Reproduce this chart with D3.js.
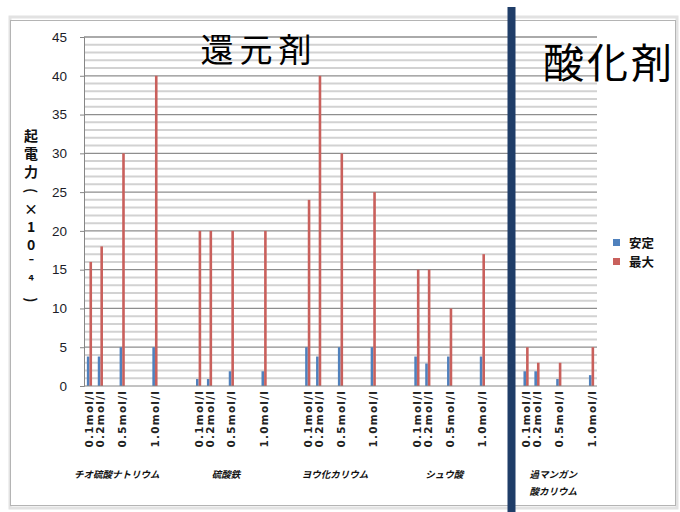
<!DOCTYPE html>
<html>
<head>
<meta charset="utf-8">
<script src="https://cdn.jsdelivr.net/npm/d3@7"></script>
<style>
  body { margin: 0; background: #fff; }
  svg { display: block; }
</style>
</head>
<body>
<svg id="chart" width="680" height="512"></svg>
<script>
// blank rows in the sheet are kept as empty categories
const categories = [
	"0.1mol/l", "0.2mol/l", "", "0.5mol/l", "", "", "1.0mol/l", "", "", "",
	"0.1mol/l", "0.2mol/l", "", "0.5mol/l", "", "", "1.0mol/l", "", "", "",
	"0.1mol/l", "0.2mol/l", "", "0.5mol/l", "", "", "1.0mol/l", "", "", "",
	"0.1mol/l", "0.2mol/l", "", "0.5mol/l", "", "", "1.0mol/l", "", "", "",
	"0.1mol/l", "0.2mol/l", "", "0.5mol/l", "", "", "1.0mol/l"
];
const groupLines = [["チオ硫酸ナトリウム"], ["硫酸鉄"], ["ヨウ化カリウム"], ["シュウ酸"], ["過マンガン", "酸カリウム"]];

const seriesNames = ["安定", "最大"];
const stable = [
	3.8, 3.8, null, 5, null, null, 5, null, null, null,
	0.9, 0.9, null, 1.9, null, null, 1.9, null, null, null,
	5, 3.8, null, 5, null, null, 5, null, null, null,
	3.8, 2.9, null, 3.8, null, null, 3.8, null, null, null,
	1.9, 1.9, null, 0.9, null, null, 1.4
];
const maximum = [
	16, 18, null, 30, null, null, 40, null, null, null,
	20, 20, null, 20, null, null, 20, null, null, null,
	24, 40, null, 30, null, null, 25, null, null, null,
	15, 15, null, 10, null, null, 17, null, null, null,
	5, 3, null, 3, null, null, 5
];
const yTicks = [0, 5, 10, 15, 20, 25, 30, 35, 40, 45];
const yTitle = ["起", "電", "力", "(", "×", "1", "0", "⁻", "⁴", ")"];

const colors = { "安定": "#4f81bd", "最大": "#c9605c" };

const svg = d3.select("#chart");
const jp = "'Noto Sans CJK JP', sans-serif";

// outer chart frame
svg.append("rect").attr("x", 10).attr("y", 17).attr("width", 667).attr("height", 491)
	.attr("fill", "none").attr("stroke", "#e2e2e2").attr("stroke-width", 3);
svg.append("rect").attr("x", 10.5).attr("y", 20.5).attr("width", 665).attr("height", 485)
	.attr("fill", "#fff").attr("stroke", "#b4b4b4");

const x = d3.scaleBand()
	.domain(d3.range(categories.length))
	.range([84, 597]);
const bw = x.bandwidth();
const xs = d3.scaleBand()
	.domain(seriesNames)
	.range([bw / 2 - 2.6, bw / 2 + 2.6]);
const y = d3.scaleLinear().domain([0, 45]).range([386, 37]);

// minor gridlines every 1, major every 5
svg.append("g").selectAll("line")
	.data(d3.range(1, 46).filter(v => v % 5 != 0))
	.join("line")
	.attr("x1", 84).attr("x2", 597)
	.attr("y1", d => y(d)).attr("y2", d => y(d))
	.attr("stroke", "#d2d2d2").attr("stroke-width", 2);
svg.append("g").selectAll("line")
	.data(yTicks.slice(1))
	.join("line")
	.attr("x1", 84).attr("x2", 597)
	.attr("y1", d => y(d)).attr("y2", d => y(d))
	.attr("stroke", "#8e8e8e").attr("stroke-width", 1.3);

// bars
const rows = categories.map((c, i) => ({ i: i, "安定": stable[i], "最大": maximum[i] }))
	.filter(r => r["安定"] != null);

const cat = svg.append("g").selectAll("g")
	.data(rows)
	.join("g")
	.attr("transform", d => `translate(${x(d.i)},0)`);
cat.selectAll("rect")
	.data(d => seriesNames.map(s => ({ s: s, v: d[s] })))
	.join("rect")
	.attr("x", d => xs(d.s))
	.attr("width", xs.bandwidth())
	.attr("y", d => y(d.v))
	.attr("height", d => y(0) - y(d.v))
	.attr("fill", d => colors[d.s]);

// axes
const yAxis = svg.append("g")
	.attr("transform", "translate(84,0)")
	.call(d3.axisLeft(y).tickValues(yTicks).tickSize(4).tickPadding(13));
yAxis.select(".domain").attr("stroke", "#868686");
yAxis.selectAll(".tick line").attr("stroke", "#868686");
yAxis.selectAll("text")
	.attr("font-family", "'Liberation Sans', sans-serif")
	.attr("font-size", 13.5)
	.attr("fill", "#1c1c28");

svg.append("line")
	.attr("x1", 84).attr("x2", 597)
	.attr("y1", y(0)).attr("y2", y(0))
	.attr("stroke", "#868686");

// category labels, rotated
svg.append("g").selectAll("text")
	.data(categories.map((c, i) => ({ c: c, i: i })).filter(d => d.c != ""))
	.join("text")
	.attr("transform", d => `translate(${x(d.i) + bw / 2 + 4},390) rotate(-90)`)
	.attr("text-anchor", "end")
	.attr("font-family", "'DejaVu Sans', sans-serif")
	.attr("font-weight", "bold")
	.attr("font-size", 10.5)
	.attr("letter-spacing", 1.2)
	.attr("fill", "#222")
	.text(d => d.c);

// group labels centred under their four categories
groupLines.forEach((lines, g) => {
	const idx = categories.map((c, i) => i).filter(i => categories[i] != "" && Math.floor(i / 10) == g);
	const cx = d3.mean(idx, i => x(i) + bw / 2);
	lines.forEach((t, k) => {
		svg.append("text")
			.attr("x", cx).attr("y", 478 + k * 17)
			.attr("text-anchor", "middle")
			.attr("font-family", jp)
			.attr("font-weight", "bold")
			.attr("font-style", "italic")
			.attr("font-size", 9.5)
			.attr("fill", "#111")
			.text(t);
	});
});

// vertical axis title, stacked characters (brackets turned for vertical writing)
svg.append("g").selectAll("text")
	.data(yTitle)
	.join("text")
	.attr("transform", (d, i) => {
		const ty = 141 + i * 18.2;
		return (d == "(" || d == ")") ? `translate(31,${ty - 5}) rotate(90)` : `translate(31,${ty})`;
	})
	.attr("text-anchor", "middle")
	.attr("dy", d => (d == "(" || d == ")") ? "0.35em" : null)
	.attr("font-family", jp)
	.attr("font-weight", "bold")
	.attr("font-size", 14)
	.attr("fill", "#111")
	.text(d => d);

// legend
const leg = svg.append("g").selectAll("g")
	.data(seriesNames)
	.join("g")
	.attr("transform", (d, i) => `translate(613,${243 + i * 19})`);
leg.append("rect")
	.attr("x", 0).attr("y", -4).attr("width", 7).attr("height", 7)
	.attr("fill", d => colors[d]);
leg.append("text")
	.attr("x", 16).attr("y", 4.5)
	.attr("font-family", jp)
	.attr("font-weight", "bold")
	.attr("font-size", 12.5)
	.attr("fill", "#111")
	.text(d => d);

// annotations
svg.append("text")
	.attr("x", 259).attr("y", 62)
	.attr("text-anchor", "middle")
	.attr("font-family", jp)
	.attr("font-size", 33)
	.attr("letter-spacing", 6)
	.attr("fill", "#000")
	.text("還元剤");
svg.append("text")
	.attr("x", 543).attr("y", 78)
	.attr("font-family", jp)
	.attr("font-size", 41)
	.attr("letter-spacing", 3)
	.attr("fill", "#000")
	.text("酸化剤");

svg.append("line")
	.attr("x1", 511.5).attr("x2", 511.5)
	.attr("y1", 7).attr("y2", 512)
	.attr("stroke", "#1f3d68")
	.attr("stroke-width", 8);
</script>
</body>
</html>
